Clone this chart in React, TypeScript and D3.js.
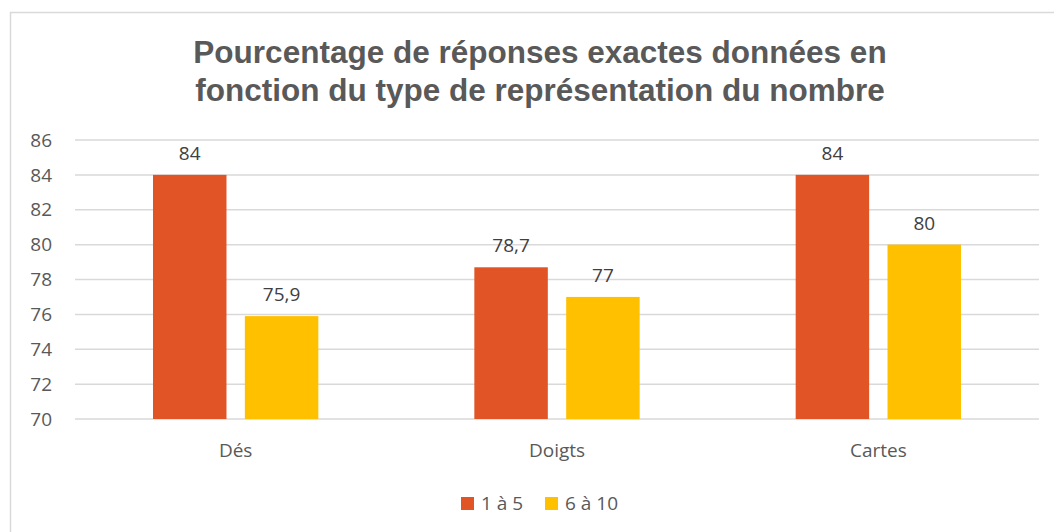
import React from "react"
import * as d3 from "d3"

const categories = ["Dés", "Doigts", "Cartes"]
const seriesNames = ["1 à 5", "6 à 10"]
const values1a5 = [84, 78.7, 84]
const values6a10 = [75.9, 77, 80]
const yTicks = [70, 72, 74, 76, 78, 80, 82, 84, 86]
const titleLines = [
	"Pourcentage de réponses exactes données en",
	"fonction du type de représentation du nombre",
]

const colors = ["#E15426", "#FFC000"]
const textColor = "#595959"
const bodyFont = "'Open Sans', 'Liberation Sans', sans-serif"

const App: React.FC = () => {
	const width = 1054
	const height = 532
	const margin = { top: 140, right: 15, bottom: 113, left: 75 }
	const innerWidth = width - margin.left - margin.right
	const innerHeight = height - margin.top - margin.bottom

	const x_scale = d3
		.scaleBand()
		.domain(categories)
		.range([0, innerWidth])
		.paddingInner(0)
		.paddingOuter(0)

	const x_inner = d3
		.scaleBand()
		.domain(seriesNames)
		.range([78, x_scale.bandwidth() - 78])
		.paddingInner(0.2)

	const y_scale = d3.scaleLinear().domain([70, 86]).range([innerHeight, 0])

	const series = [values1a5, values6a10]
	const fmt = (v: number) => String(v).replace(".", ",")

	return (
		<svg
			width={width}
			height={height}
			style={{ position: "absolute", left: 0, top: 0, background: "#fff" }}>
			<rect
				x={10.5}
				y={12.5}
				width={width}
				height={height}
				fill="#fff"
				stroke="#d9d9d9"
				strokeWidth={1.5}
			/>
			{titleLines.map((t, i) => (
				<text
					key={t}
					x={540}
					y={63 + i * 38}
					textAnchor="middle"
					fill={textColor}
					fontFamily="'Liberation Sans', Arial, sans-serif"
					fontWeight="bold"
					fontSize={31.5}>
					{t}
				</text>
			))}
			<g transform={`translate(${margin.left},${margin.top})`}>
				{yTicks.map((t) => (
					<g key={t}>
						<line
							x1={0}
							x2={innerWidth}
							y1={y_scale(t)}
							y2={y_scale(t)}
							stroke="#d9d9d9"
							strokeWidth={1.5}
						/>
						<text
							x={-23}
							y={y_scale(t)}
							dy="0.35em"
							textAnchor="end"
							fill={textColor}
							fontFamily={bodyFont}
							fontSize={19}>
							{t}
						</text>
					</g>
				))}
				{categories.map((c, ci) => (
					<g key={c} transform={`translate(${x_scale(c)},0)`}>
						{series.map((vals, si) => {
							const bx = x_inner(seriesNames[si])!
							const by = y_scale(vals[ci])
							return (
								<g key={si}>
									<rect
										x={bx}
										y={by}
										width={x_inner.bandwidth()}
										height={innerHeight - by}
										fill={colors[si]}
									/>
									<text
										x={bx + x_inner.bandwidth() / 2}
										y={by - 15}
										textAnchor="middle"
										fill="#404040"
										fontFamily={bodyFont}
										fontSize={19}>
										{fmt(vals[ci])}
									</text>
								</g>
							)
						})}
						<text
							x={x_scale.bandwidth() / 2}
							y={innerHeight + 38}
							textAnchor="middle"
							fill={textColor}
							fontFamily={bodyFont}
							fontSize={19}>
							{c}
						</text>
					</g>
				))}
			</g>
			<g transform="translate(461,497)">
				{seriesNames.map((s, i) => (
					<g key={s} transform={`translate(${i * 84},0)`}>
						<rect width={13} height={13} fill={colors[i]} />
						<text
							x={20}
							y={13}
							fill={textColor}
							fontFamily={bodyFont}
							fontSize={19}>
							{s}
						</text>
					</g>
				))}
			</g>
		</svg>
	)
}

export default App
